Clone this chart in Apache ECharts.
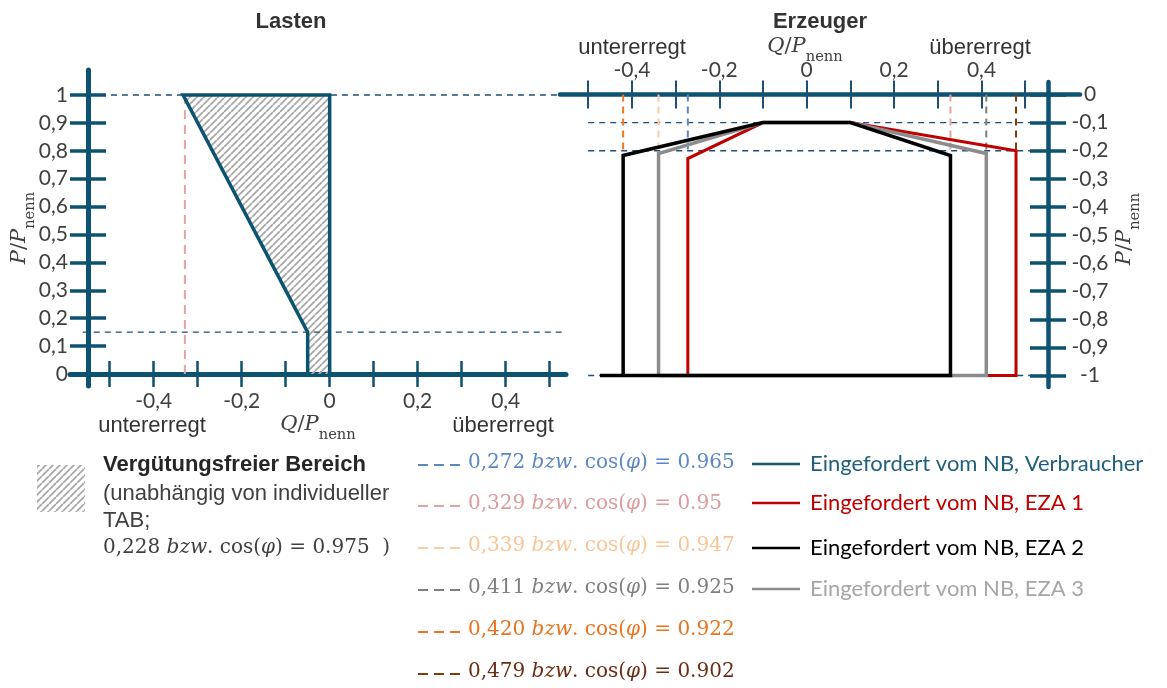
<!DOCTYPE html>
<html>
<head>
<meta charset="utf-8">
<script src="https://cdn.jsdelivr.net/npm/echarts@6/dist/echarts.min.js"></script>
<style>
  html, body { margin: 0; padding: 0; background: #ffffff; }
  #chart { width: 1167px; height: 688px; }
</style>
</head>
<body>
<div id="chart"></div>
<script>
// ---- Axis ticks and labels ----
const qTicks = [-0.5, -0.4, -0.3, -0.2, -0.1, 0, 0.1, 0.2, 0.3, 0.4, 0.5];
const qLabels = [-0.4, -0.2, 0, 0.2, 0.4];
const pTicksLoad = [0, 0.1, 0.2, 0.3, 0.4, 0.5, 0.6, 0.7, 0.8, 0.9, 1];
const pTicksGen = [0, -0.1, -0.2, -0.3, -0.4, -0.5, -0.6, -0.7, -0.8, -0.9, -1];

// ---- Lasten (consumers) ----
// boundary requested by the grid operator
const loadEdgeQ = [-0.05, -0.05, -0.333, 0, 0];
const loadEdgeP = [0, 0.15, 1, 1, 0];
// remuneration-free area
const freeZoneQ = [0, 0, -0.333, -0.05, -0.05];
const freeZoneP = [0, 1, 1, 0.15, 0];
const freeZoneLimit = [0.228];
const freeZoneCos = [0.975];
// cos(phi) = 0.95 limit on the consumer side
const loadCosQ = [-0.329, -0.329];
const loadCosP = [0, 1];
// horizontal guide lines (P level, Q start, Q end)
const loadGuideP = [1, 0.15];
const loadGuideFrom = [-0.522, -0.561];
const loadGuideTo = [0.523, 0.537];

// ---- Erzeuger (generators) ----
const eza1Q = [-0.272, -0.272, -0.1, 0.1, 0.479, 0.479, -0.272];
const eza1P = [-1, -0.228, -0.1, -0.1, -0.2, -1, -1];
const eza2Q = [-0.473, 0.329, 0.329, 0.1, -0.1, -0.42, -0.42];
const eza2P = [-1, -1, -0.217, -0.1, -0.1, -0.217, -1];
const eza3Q = [-0.339, -0.339, -0.1, 0.1, 0.411, 0.411, -0.339];
const eza3P = [-1, -0.21, -0.1, -0.1, -0.21, -1, -1];
const genGuideP = [-0.1, -0.2, -1];
const genGuideFrom = [-0.5, -0.5, -0.5];
const genGuideTo = [0.538, 0.538, 0.538];
// cos(phi) limits: reactive power share and power factor
const cosLimitQ = [-0.272, 0.329, -0.339, 0.411, -0.42, 0.479];
const cosPhi = [0.965, 0.95, 0.947, 0.925, 0.922, 0.902];
const cosLimitTop = 0;
const cosLimitBottom = -0.2;

// ---- Legend texts ----
const curveNames = ['Eingefordert vom NB, Verbraucher', 'Eingefordert vom NB, EZA 1',
  'Eingefordert vom NB, EZA 2', 'Eingefordert vom NB, EZA 3'];

// ---- Styles ----
const TEAL = '#0c5271';
const NAVY = '#1f4e79';
const LABEL = '#404040';
const cosLineColors = ['#5b87c5', '#e3a3a3', '#fbcba3', '#7f7f7f', '#ea7a26', '#843c0c'];
const cosTextColors = ['#5b87c5', '#dd9b9b', '#f8c696', '#7f7f7f', '#e8731e', '#6b2c14'];
const curveLineColors = ['#155a75', '#c00000', '#000000', '#8c8c8c'];
const curveTextColors = ['#1f5f7a', '#c00000', '#000000', '#a6a6a6'];

const fmt = v => String(Math.round(v * 10) / 10).replace('.', ',');
const fmt3 = v => Math.abs(v).toFixed(3).replace('.', ',');

function makeHatch() {
  const s = 7;
  const c = document.createElement('canvas');
  c.width = s; c.height = s;
  const g = c.getContext('2d');
  g.strokeStyle = '#a8a8a8';
  g.lineWidth = 1.8;
  g.beginPath();
  [-s, 0, s].forEach(o => { g.moveTo(o, s); g.lineTo(o + s, 0); });
  g.stroke();
  return c;
}
const hatch = { image: makeHatch(), repeat: 'repeat' };

const pts = (qs, ps) => qs.map((q, i) => [q, ps[i]]);

function poly(qs, ps, axis, color, width, dash, z) {
  return {
    type: 'line', xAxisIndex: axis, yAxisIndex: axis, data: pts(qs, ps),
    symbol: 'none', silent: true, z: z, clip: false,
    lineStyle: { color: color, width: width, type: dash || 'solid', join: 'miter', cap: 'butt' }
  };
}

const series = [];
// hatched free zone
series.push({
  type: 'custom', xAxisIndex: 0, yAxisIndex: 0, z: 1, silent: true,
  data: pts(freeZoneQ, freeZoneP),
  renderItem: function (params, api) {
    if (params.dataIndex !== 0) return null;
    const points = freeZoneQ.map((q, i) => api.coord([q, freeZoneP[i]]));
    return { type: 'polygon', shape: { points: points }, style: { fill: hatch, stroke: null } };
  }
});
// guides on the consumer side
loadGuideP.forEach((p, i) => {
  series.push(poly([loadGuideFrom[i], loadGuideTo[i]], [p, p], 0, NAVY, 1.4, [6, 5], 2));
});
series.push(poly(loadCosQ, loadCosP, 0, cosLineColors[1], 2, [9, 6], 2));
series.push(poly(loadEdgeQ, loadEdgeP, 0, TEAL, 3.5, null, 5));

// guides on the generator side
genGuideP.forEach((p, i) => {
  series.push(poly([genGuideFrom[i], genGuideTo[i]], [p, p], 2, NAVY, 1.4, [6, 5], 2));
});
cosLimitQ.forEach((q, i) => {
  series.push(poly([q, q], [cosLimitTop, cosLimitBottom], 2, cosLineColors[i], 2, [7, 5], 2));
});
series.push(poly(eza1Q, eza1P, 2, curveLineColors[1], 3, null, 4));
series.push(poly(eza3Q, eza3P, 2, curveLineColors[3], 3.5, null, 5));
series.push(poly(eza2Q, eza2P, 2, curveLineColors[2], 3.5, null, 6));

const tickFont = { fontFamily: 'Lato', fontSize: 21, color: LABEL };

function xAxes(grid, min, max, pos, offset, lineW, tickLen, tickColor, tickW, labelMargin) {
  const base = { gridIndex: grid, type: 'value', min: min, max: max, position: pos, offset: offset,
    splitLine: { show: false } };
  return [
    Object.assign({}, base, {
      axisLine: { onZero: false, lineStyle: { color: TEAL, width: lineW } },
      axisTick: { customValues: qTicks, length: tickLen, lineStyle: { color: tickColor, width: tickW } },
      axisLabel: Object.assign({ customValues: qLabels, formatter: fmt, margin: labelMargin }, tickFont)
    }),
    Object.assign({}, base, {
      axisLine: { show: false, onZero: false },
      axisTick: { customValues: qTicks, inside: true, length: tickLen, lineStyle: { color: tickColor, width: tickW } },
      axisLabel: { show: false }
    })
  ];
}

const option = {
  animation: false,
  backgroundColor: '#ffffff',
  grid: [
    { left: 70, top: 70, width: 496, height: 316, outerBoundsMode: 'none' },
    { left: 560, top: 82, width: 520, height: 305, outerBoundsMode: 'none' }
  ],
  xAxis: [].concat(
    xAxes(0, -0.59, 0.537, 'bottom', -12, 5, 13, '#0e5070', 2.5, 17),
    xAxes(1, -0.5645, 0.6254, 'top', -12.5, 4.5, 14, NAVY, 2, 14)
  ),
  yAxis: [
    { gridIndex: 0, type: 'value', min: -0.043, max: 1.0896, position: 'left', offset: -18,
      splitLine: { show: false },
      axisLine: { onZero: false, lineStyle: { color: TEAL, width: 5 } },
      axisTick: { show: false },
      axisLabel: Object.assign({ customValues: pTicksLoad, formatter: fmt, margin: 20 }, tickFont) },
    { gridIndex: 0, type: 'value', min: -0.043, max: 1.0896, position: 'left', offset: 0,
      splitLine: { show: false },
      axisLine: { show: false, onZero: false },
      axisTick: { customValues: pTicksLoad, inside: true, length: 36, lineStyle: { color: TEAL, width: 3.5 } },
      axisLabel: { show: false } },
    { gridIndex: 1, type: 'value', min: -1.041, max: 0.0445, position: 'right', offset: -32,
      splitLine: { show: false },
      axisLine: { onZero: false, lineStyle: { color: TEAL, width: 4.5 } },
      axisTick: { show: false },
      axisLabel: Object.assign({ customValues: pTicksGen, formatter: fmt, margin: 42, align: 'center' }, tickFont) },
    { gridIndex: 1, type: 'value', min: -1.041, max: 0.0445, position: 'right', offset: -14,
      splitLine: { show: false },
      axisLine: { show: false, onZero: false },
      axisTick: { customValues: pTicksGen, inside: true, length: 36, lineStyle: { color: TEAL, width: 3.5 } },
      axisLabel: { show: false } }
  ],
  series: series,
  graphic: []
};

// ---- Texts ----
const SANS = 'Liberation Sans';
const SERIF = 'DejaVu Serif';
function mathRich(color, size) {
  return {
    n: { fontFamily: SERIF, fontSize: size, fill: color, lineHeight: size + 4, verticalAlign: 'top' },
    i: { fontFamily: SERIF, fontStyle: 'italic', fontSize: size, fill: color, lineHeight: size + 4, verticalAlign: 'top' },
    s: { fontFamily: SERIF, fontSize: size * 0.7, fill: color, lineHeight: size * 0.7, padding: [Math.round(size * 0.6), 0, 0, 0], verticalAlign: 'top' }
  };
}
function plain(text, x, y, opts) {
  return Object.assign({ type: 'text', x: x, y: y, silent: true,
    style: Object.assign({ text: text, fontFamily: SANS, fontSize: 22, fill: '#333333', align: 'center', verticalAlign: 'middle' }, opts || {}) });
}
function mathText(text, x, y, color, size, align, rotation) {
  return { type: 'text', x: x, y: y, rotation: rotation || 0, silent: true,
    style: { text: text, rich: mathRich(color, size), align: align || 'center', verticalAlign: 'middle' } };
}
const qName = '{i|Q}{n|/}{i|P}{s|nenn}';
const pName = '{i|P}{n|/}{i|P}{s|nenn}';
const cosText = (q, c) => '{n|' + fmt3(q) + ' }{i|bzw}{n|. cos(}{i|φ}{n|) = ' + c + '}';

const g = option.graphic;
g.push(plain('Lasten', 291, 22, { fontWeight: 'bold' }));
g.push(plain('Erzeuger', 820, 22, { fontWeight: 'bold' }));
g.push(plain('untererregt', 152, 426));
g.push(plain('übererregt', 503, 426));
g.push(mathText(qName, 318, 427, LABEL, 21));
g.push(plain('untererregt', 632, 48));
g.push(plain('übererregt', 980, 48));
g.push(mathText(qName, 805, 49, LABEL, 21));
g.push(mathText(pName, 22, 228, LABEL, 21, 'center', Math.PI / 2));
g.push(mathText(pName, 1127, 229, LABEL, 21, 'center', Math.PI / 2));

// legend: free zone
g.push({ type: 'rect', shape: { x: 37, y: 465, width: 48, height: 47 }, style: { fill: hatch }, silent: true });
g.push(plain('Vergütungsfreier Bereich', 103, 465, { fontWeight: 'bold', align: 'left', fill: '#262626' }));
g.push(plain('(unabhängig von individueller', 103, 494, { align: 'left', fill: LABEL }));
g.push(plain('TAB;', 103, 521, { align: 'left', fill: LABEL }));
g.push(mathText(cosText(freeZoneLimit[0], freeZoneCos[0]) + '{n|  )}', 103, 550, LABEL, 20, 'left'));

// legend: cos(phi) limits
const cosRowY = [465, 506, 548, 590, 632, 674];
cosLimitQ.forEach((q, i) => {
  g.push({ type: 'line', silent: true, shape: { x1: 418, y1: cosRowY[i], x2: 463, y2: cosRowY[i] },
    style: { stroke: cosLineColors[i], lineWidth: 2.2, lineDash: [10, 6] } });
  g.push(mathText(cosText(q, cosPhi[i]), 468, cosRowY[i], cosTextColors[i], 20, 'left'));
});

// legend: requested curves
const curveRowY = [464, 503, 548, 589];
curveNames.forEach((name, i) => {
  g.push({ type: 'line', silent: true, shape: { x1: 752, y1: curveRowY[i], x2: 800, y2: curveRowY[i] },
    style: { stroke: curveLineColors[i], lineWidth: 2.5 } });
  g.push(plain(name, 810, curveRowY[i], { fontFamily: 'Lato', fontSize: 22, align: 'left', fill: curveTextColors[i] }));
});

const chart = echarts.init(document.getElementById('chart'), null, { renderer: 'canvas' });
chart.setOption(option);
</script>
</body>
</html>
